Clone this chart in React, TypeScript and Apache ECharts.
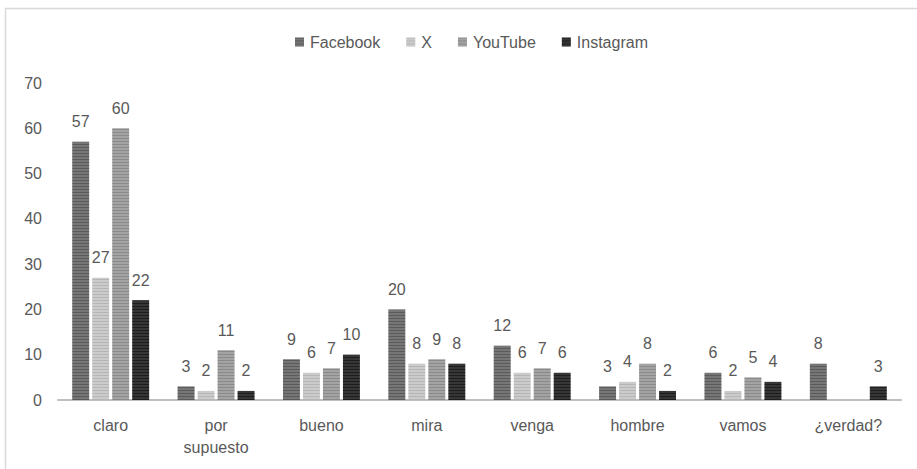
import React, { useEffect, useRef } from "react";
import * as echarts from "echarts";

const categories = ["claro", "por\nsupuesto", "bueno", "mira", "venga", "hombre", "vamos", "¿verdad?"];
const seriesNames = ["Facebook", "X", "YouTube", "Instagram"];
const facebook = [57, 3, 9, 20, 12, 3, 6, 8];
const xValues = [27, 2, 6, 8, 6, 4, 2, null];
const youtube = [60, 11, 7, 9, 7, 8, 5, null];
const instagram = [22, 2, 10, 8, 6, 2, 4, 3];
const yTicks = [0, 10, 20, 30, 40, 50, 60, 70];

const fills = ["#767676", "#cbcbcb", "#a3a3a3", "#363636"];
const stripes = ["rgba(40,40,40,0.35)", "rgba(120,120,120,0.25)", "rgba(80,80,80,0.3)", "rgba(0,0,0,0.45)"];

const FONT = "'Liberation Sans', Arial, sans-serif";
const TEXT = "#595959";

export default function App() {
  const ref = useRef<HTMLDivElement>(null);

  useEffect(() => {
    document.body.style.margin = "0";
    if (!ref.current) return;
    const chart = echarts.init(ref.current, null, { renderer: "svg" });
    const data = [facebook, xValues, youtube, instagram];
    chart.setOption({
      animation: false,
      backgroundColor: "#ffffff",
      textStyle: { fontFamily: FONT },
      graphic: [
        {
          type: "rect",
          shape: { x: 5.5, y: 8.5, width: 1000, height: 1000 },
          style: { fill: "none", stroke: "#d9d9d9", lineWidth: 1.5 },
          silent: true,
        },
      ],
      legend: {
        top: 29,
        left: 290,
        itemWidth: 9,
        itemHeight: 9,
        itemGap: 26,
        icon: "rect",
        textStyle: { color: TEXT, fontSize: 16, fontFamily: FONT, padding: [0, 0, 0, 1] },
        data: seriesNames,
      },
      grid: { left: 58, right: 16, top: 83, bottom: 69, containLabel: false },
      xAxis: {
        type: "category",
        data: categories,
        axisLine: { lineStyle: { color: "#bfbfbf", width: 2 } },
        axisTick: { show: false },
        axisLabel: { color: TEXT, fontSize: 16, fontFamily: FONT, margin: 14, lineHeight: 22 },
      },
      yAxis: {
        type: "value",
        min: yTicks[0],
        max: yTicks[yTicks.length - 1],
        interval: 10,
        splitLine: { show: false },
        axisLine: { show: false },
        axisTick: { show: false },
        axisLabel: { color: TEXT, fontSize: 16, fontFamily: FONT, margin: 16 },
      },
      series: seriesNames.map((name, i) => ({
        name,
        type: "bar",
        data: data[i],
        barGap: "18%",
        barCategoryGap: "27%",
        itemStyle: {
          color: fills[i],
          decal: {
            symbol: "rect",
            symbolSize: 1,
            color: stripes[i],
            dashArrayX: [1, 0],
            dashArrayY: [1, 2],
            rotation: 0,
          },
        },
        label: {
          show: true,
          position: "top",
          distance: 12,
          color: TEXT,
          fontSize: 16,
          fontFamily: FONT,
        },
      })),
    });
    return () => chart.dispose();
  }, []);

  return <div ref={ref} style={{ width: 917, height: 469 }} />;
}
